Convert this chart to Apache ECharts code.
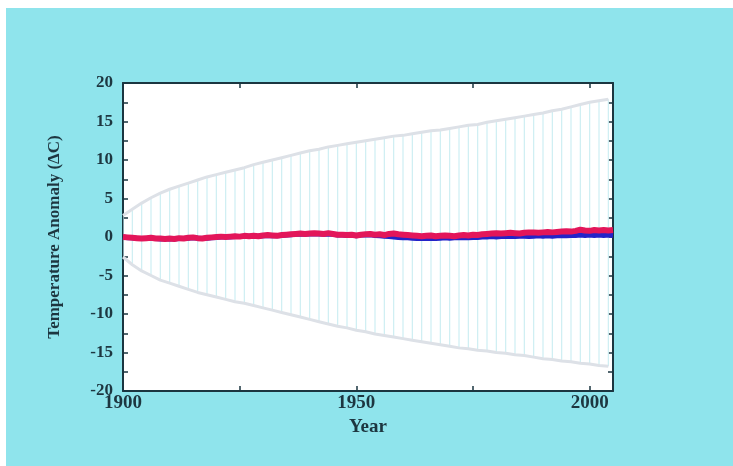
<!DOCTYPE html>
<html lang="en">
<head>
    <meta charset="UTF-8">
    <title>Temperature Anomaly</title>
    <script src="https://cdn.jsdelivr.net/npm/echarts@6/dist/echarts.min.js"></script>
    <style>
        html, body { margin: 0; padding: 0; background: #fff; }
    </style>
</head>
<body>
<div id="main" style="width: 733px;height:466px;"></div>
<script>
    // yearly anomalies, 1900..2005
    var startYear = 1900;
    var redAnomaly = [
        0.0, -0.05, -0.1, -0.15, -0.2, -0.15, -0.1, -0.2, -0.2, -0.25,
        -0.2, -0.25, -0.15, -0.2, -0.1, -0.05, -0.15, -0.2, -0.1, -0.05,
        0.0, 0.05, 0.0, 0.05, 0.1, 0.05, 0.15, 0.1, 0.15, 0.1,
        0.2, 0.25, 0.2, 0.15, 0.25, 0.3, 0.35, 0.4, 0.45, 0.4,
        0.45, 0.5, 0.45, 0.4, 0.5, 0.4, 0.3, 0.3, 0.25, 0.3,
        0.2, 0.3, 0.35, 0.4, 0.3, 0.35, 0.25, 0.4, 0.45, 0.35,
        0.3, 0.25, 0.2, 0.15, 0.1, 0.15, 0.2, 0.1, 0.15, 0.2,
        0.15, 0.1, 0.2, 0.25, 0.2, 0.3, 0.25, 0.35, 0.4, 0.45,
        0.5, 0.45, 0.5, 0.55, 0.5, 0.45, 0.55, 0.6, 0.6, 0.55,
        0.6, 0.65, 0.6, 0.65, 0.7, 0.75, 0.7, 0.8, 0.95, 0.85,
        0.8, 0.9, 0.85, 0.9, 0.85, 0.9
    ];
    var blueAnomaly = [
        0.0, -0.1, -0.1, -0.2, -0.2, -0.2, -0.15, -0.2, -0.25, -0.25,
        -0.25, -0.25, -0.2, -0.2, -0.15, -0.1, -0.15, -0.2, -0.15, -0.1,
        -0.05, 0.0, 0.0, 0.0, 0.05, 0.05, 0.1, 0.1, 0.1, 0.1,
        0.15, 0.2, 0.15, 0.15, 0.2, 0.25, 0.3, 0.35, 0.35, 0.35,
        0.4, 0.4, 0.4, 0.35, 0.4, 0.35, 0.25, 0.25, 0.2, 0.25,
        0.15, 0.25, 0.25, 0.3, 0.2, 0.15, 0.1, 0.05, 0.0, -0.05,
        -0.1, -0.1, -0.15, -0.2, -0.15, -0.2, -0.15, -0.2, -0.15, -0.1,
        -0.15, -0.1, -0.1, -0.05, -0.1, -0.05, -0.05, 0.0, 0.0, 0.05,
        0.0, 0.05, 0.05, 0.1, 0.05, 0.1, 0.1, 0.05, 0.1, 0.15,
        0.1, 0.15, 0.1, 0.15, 0.2, 0.15, 0.2, 0.2, 0.25, 0.2,
        0.25, 0.2, 0.25, 0.2, 0.25, 0.2
    ];

    // error bars every 2 years, 1900..2004
    var barStep = 2;
    var barUpper = [
        2.8, 3.6, 4.4, 5.1, 5.7, 6.2, 6.6, 7.0, 7.4, 7.8,
        8.1, 8.4, 8.7, 9.0, 9.4, 9.7, 10.0, 10.3, 10.6, 10.9,
        11.2, 11.4, 11.7, 11.9, 12.1, 12.3, 12.5, 12.7, 12.9, 13.1,
        13.2, 13.4, 13.6, 13.8, 13.9, 14.1, 14.3, 14.5, 14.6, 14.9,
        15.1, 15.3, 15.5, 15.7, 15.9, 16.1, 16.4, 16.6, 16.9, 17.2,
        17.5, 17.7, 17.9
    ];
    var barLower = [
        -2.6, -3.6, -4.4, -5.0, -5.6, -6.0, -6.4, -6.8, -7.2, -7.5,
        -7.8, -8.1, -8.4, -8.6, -8.9, -9.2, -9.5, -9.8, -10.1, -10.4,
        -10.7, -11.0, -11.3, -11.6, -11.8, -12.1, -12.3, -12.6, -12.8, -13.0,
        -13.2, -13.4, -13.6, -13.8, -14.0, -14.2, -14.4, -14.5, -14.7, -14.8,
        -15.0, -15.1, -15.3, -15.4, -15.6, -15.8, -15.9, -16.1, -16.2, -16.4,
        -16.5, -16.7, -16.8
    ];

    var redData = redAnomaly.map(function (v, i) { return [startYear + i, v]; });
    var blueData = blueAnomaly.map(function (v, i) { return [startYear + i, v]; });
    var barData = barUpper.map(function (v, i) { return [startYear + i * barStep, barLower[i], v]; });
    var upperEdge = barUpper.map(function (v, i) { return [startYear + i * barStep, v]; });
    var lowerEdge = barLower.map(function (v, i) { return [startYear + i * barStep, v]; });

    var textColor = '#1d3640';
    var serif = '"Liberation Serif", "DejaVu Serif", serif';

    function renderBar(params, api) {
        var top = api.coord([api.value(0), api.value(2)]);
        var bot = api.coord([api.value(0), api.value(1)]);
        return {
            type: 'line',
            shape: { x1: top[0], y1: top[1], x2: bot[0], y2: bot[1] },
            style: { stroke: '#cdeef3', lineWidth: 1.2 }
        };
    }

    var axisLine = { onZero: false, lineStyle: { color: '#1b3640', width: 2 } };
    var tickInside = { inside: true, length: 5, lineStyle: { color: '#1b3640', width: 1.5 } };
    var minorInside = { show: true, splitNumber: 2, length: 5, lineStyle: { color: '#1b3640', width: 1.5 } };
    var edgeStyle = { color: '#dde1e7', width: 3 };

    var myChart = echarts.init(document.getElementById('main'));
    myChart.setOption({
        backgroundColor: '#8fe4ec',
        animation: false,
        graphic: [
            { type: 'rect', left: 0, top: 0, shape: { width: 733, height: 8 }, style: { fill: '#ffffff' } },
            { type: 'rect', left: 0, top: 0, shape: { width: 6, height: 466 }, style: { fill: '#ffffff' } }
        ],
        grid: {
            left: 123, right: 120, top: 83, bottom: 75,
            show: true, backgroundColor: '#ffffff', borderWidth: 0
        },
        xAxis: [
            {
                type: 'value', min: 1900, max: 2005, interval: 25,
                position: 'bottom',
                name: 'Year', nameLocation: 'middle', nameGap: 26,
                nameTextStyle: { fontFamily: serif, fontWeight: 'bold', fontSize: 19, color: textColor },
                axisLine: axisLine, axisTick: tickInside,
                splitLine: { show: false },
                axisLabel: {
                    fontFamily: serif, fontWeight: 'bold', fontSize: 19, color: textColor, margin: 3,
                    showMaxLabel: false,
                    formatter: function (v) { return v % 50 === 0 ? String(v) : ''; }
                }
            },
            {
                type: 'value', min: 1900, max: 2005, interval: 25,
                position: 'top',
                axisLine: axisLine, axisTick: tickInside,
                splitLine: { show: false }, axisLabel: { show: false }
            }
        ],
        yAxis: [
            {
                type: 'value', min: -20, max: 20, interval: 5,
                position: 'left',
                name: 'Temperature Anomaly (ΔC)', nameLocation: 'middle', nameGap: 60,
                nameTextStyle: { fontFamily: serif, fontWeight: 'bold', fontSize: 17, color: textColor },
                axisLine: axisLine, axisTick: tickInside, minorTick: minorInside,
                splitLine: { show: false },
                axisLabel: { fontFamily: serif, fontWeight: 'bold', fontSize: 17, color: textColor, margin: 10 }
            },
            {
                type: 'value', min: -20, max: 20, interval: 5,
                position: 'right',
                axisLine: axisLine, axisTick: tickInside, minorTick: minorInside,
                splitLine: { show: false }, axisLabel: { show: false }
            }
        ],
        series: [
            {
                type: 'custom', name: 'range',
                renderItem: renderBar,
                encode: { x: 0, y: [1, 2] },
                data: barData, z: 1, silent: true, clip: true
            },
            {
                type: 'line', name: 'upper', data: upperEdge,
                showSymbol: false, clip: true, silent: true,
                lineStyle: edgeStyle, z: 2
            },
            {
                type: 'line', name: 'lower', data: lowerEdge,
                showSymbol: false, clip: true, silent: true,
                lineStyle: edgeStyle, z: 2
            },
            {
                type: 'line', name: 'blue', data: blueData,
                showSymbol: false, clip: true,
                lineStyle: { color: '#2323c8', width: 5 }, z: 3
            },
            {
                type: 'line', name: 'red', data: redData,
                showSymbol: false, clip: true,
                lineStyle: { color: '#e3165a', width: 6 }, z: 4
            }
        ]
    });
</script>
</body>
</html>
